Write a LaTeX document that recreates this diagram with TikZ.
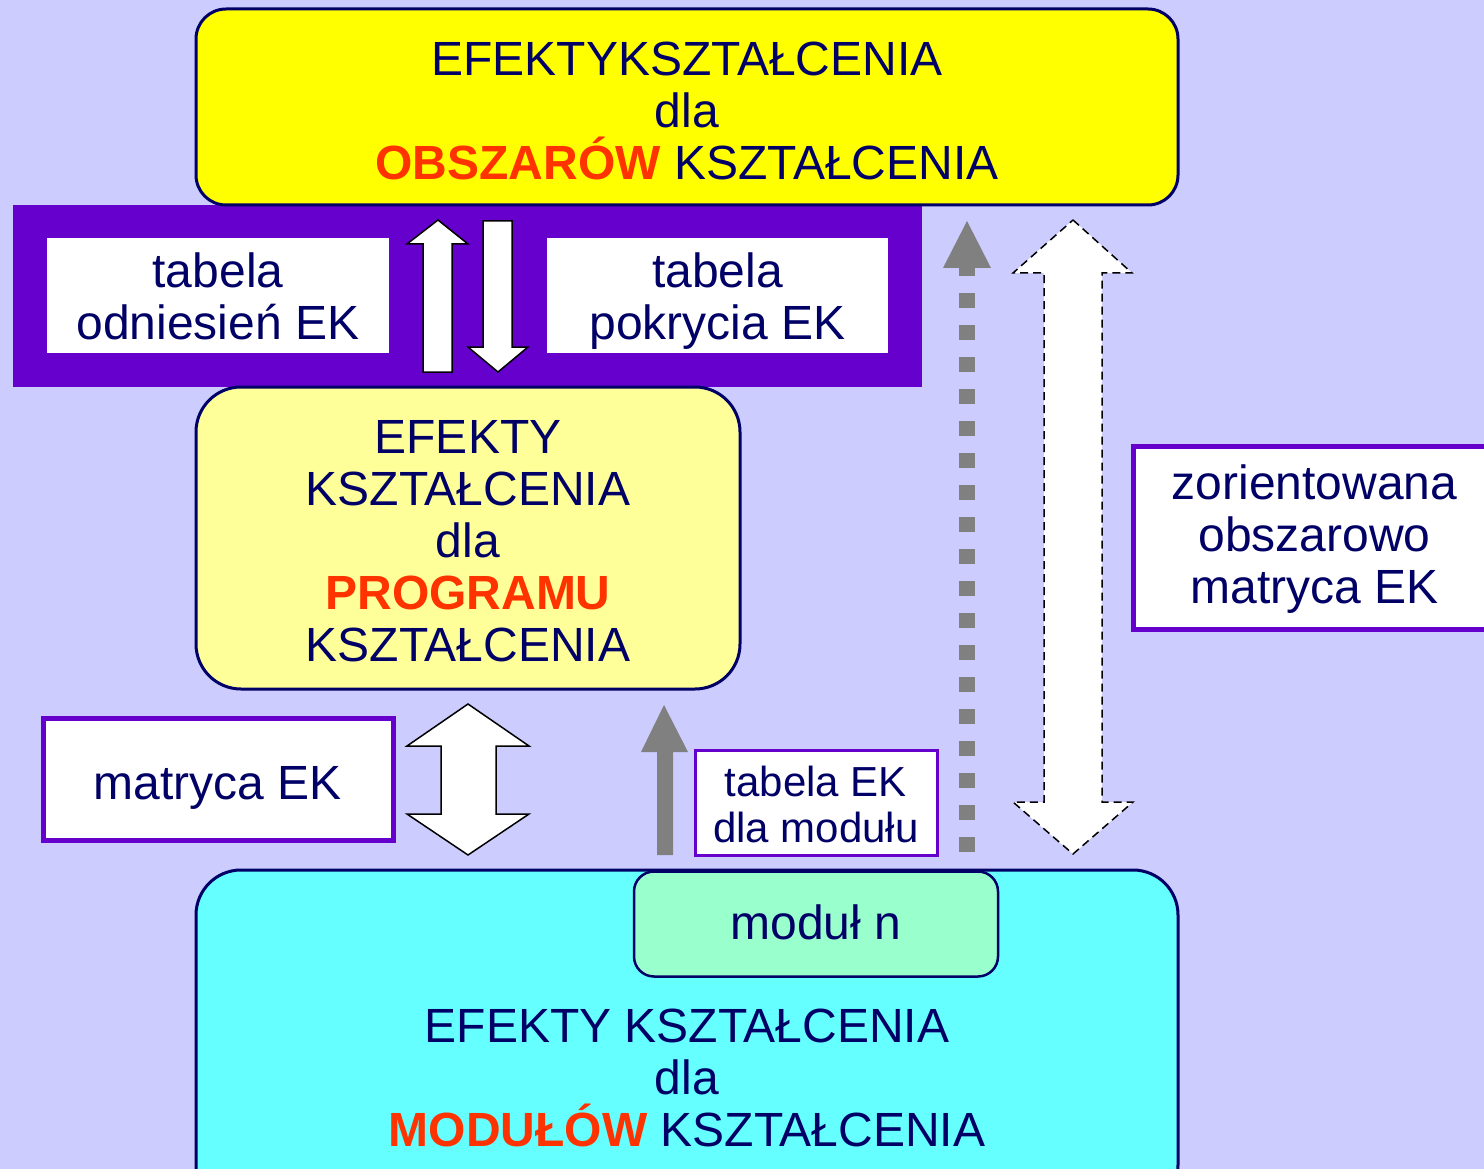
\documentclass[tikz,border=0pt]{standalone}
\usepackage{fontspec}
\setmainfont{Liberation Sans}
\definecolor{bg}{HTML}{CCCCFF}
\definecolor{navy}{HTML}{000066}
\definecolor{purp}{HTML}{6600CC}
\definecolor{yel}{HTML}{FFFF00}
\definecolor{lyel}{HTML}{FFFF99}
\definecolor{cyn}{HTML}{66FFFF}
\definecolor{mint}{HTML}{99FFCC}
\definecolor{redo}{HTML}{FF3300}
\definecolor{gry}{HTML}{808080}
\begin{document}
\begin{tikzpicture}[x=1pt,y=-1pt,
  txt/.style={text=navy, font=\fontsize{48}{52}\selectfont, align=center, inner sep=0pt},
  navybox/.style={draw=navy, line width=3pt, inner sep=0pt},
  wbox/.style={fill=white, draw=purp, inner sep=0pt},
  blk/.style={fill=white, draw=black, line width=1.5pt, line join=miter},
  dblk/.style={fill=white, draw=black, line width=1.5pt, dash pattern=on 8pt off 5pt, line join=miter},
]
\useasboundingbox (0,0) rectangle (1484,1169);
\fill[bg] (0,0) rectangle (1484,1169);
% purple band
\fill[purp] (13,205) rectangle (922,387);
% top box
\node[navybox, fill=yel, rounded corners=30pt, minimum width=982pt, minimum height=196pt] (obs) at (687,107) {};
\node[txt] (obst) at ([yshift=-4pt]obs.center)
  {EFEKTYKSZTAŁCENIA\\dla\\\textcolor{redo}{\bfseries OBSZARÓW} KSZTAŁCENIA};
% band boxes
\node[wbox, draw=none, minimum width=342pt, minimum height=115pt] (odn) at (218,295.5) {};
\node[txt] (odnt) at ([yshift=-1pt]odn.center) {tabela\\odniesień EK};
\node[wbox, draw=none, minimum width=341pt, minimum height=115pt] (pok) at (717.5,295.5) {};
\node[txt] (pokt) at ([yshift=-6pt]pok.center) {tabela\\pokrycia EK};
% up / down arrows
\draw[blk] (438,220) -- (468,244) -- (452,244) -- (452,372) -- (423,372) -- (423,244) -- (407,244) -- cycle;
\draw[blk] (483,221) -- (512,221) -- (512,347) -- (528,347) -- (498,372) -- (468,347) -- (483,347) -- cycle;
% middle box
\node[navybox, fill=lyel, rounded corners=45pt, minimum width=544pt, minimum height=302pt] (prog) at (468,538) {};
\node[txt] (progt) at ([yshift=-3pt]prog.center)
  {EFEKTY\\KSZTAŁCENIA\\dla\\\textcolor{redo}{\bfseries PROGRAMU}\\KSZTAŁCENIA};
% matryca EK
\node[wbox, line width=5pt, minimum width=350pt, minimum height=122pt] (mat) at (218,779) {};
\node[txt] (matt) at ([yshift=-9pt]mat.center) {matryca EK};
% double arrow
\draw[blk] (468,704) -- (529,746) -- (496,746) -- (496,814) -- (529,814) -- (468,855) -- (407,814) -- (441,814) -- (441,746) -- (407,746) -- cycle;
% gray solid arrow
\fill[gry] (664,705) -- (688,752) -- (673,752) -- (673,855) -- (657,855) -- (657,752) -- (641,752) -- cycle;
% tabela EK dla modulu
\node[wbox, line width=3pt, minimum width=242pt, minimum height=105pt] (tmod) at (816,802.5) {};
\node[txt, font=\fontsize{42}{46}\selectfont] (tmodt) at ([yshift=-2pt]tmod.center) {tabela EK\\dla modułu};
% gray dotted arrow
\fill[gry] (967,221) -- (991,268) -- (943,268) -- cycle;
\draw[gry, line width=16pt, dash pattern=on 15pt off 17pt] (967,852) -- (967,268);
% dashed double arrow
\draw[dblk] (1073,220) -- (1132,273) -- (1102,273) -- (1102,802) -- (1133,802) -- (1073,854) -- (1013,802) -- (1044,802) -- (1044,273) -- (1013,273) -- cycle;
% zorientowana
\node[wbox, line width=5pt, minimum width=363pt, minimum height=183pt] (zor) at (1314.5,537.5) {};
\node[txt] (zort) at ([yshift=-2pt]zor.center) {zorientowana\\obszarowo\\matryca EK};
% bottom box
\node[navybox, fill=cyn, rounded corners=45pt, minimum width=982pt, minimum height=340pt] (mods) at (687,1040) {};
\node[navybox, line width=2.5pt, fill=mint, rounded corners=20pt, minimum width=364pt, minimum height=105pt] (modn) at (816,924) {};
\node[txt] (modnt) at ([yshift=2pt]modn.center) {moduł n};
\node[txt] (modt) at (687,1078) {EFEKTY KSZTAŁCENIA\\dla\\\textcolor{redo}{\bfseries MODUŁÓW} KSZTAŁCENIA};
\end{tikzpicture}
\end{document}
